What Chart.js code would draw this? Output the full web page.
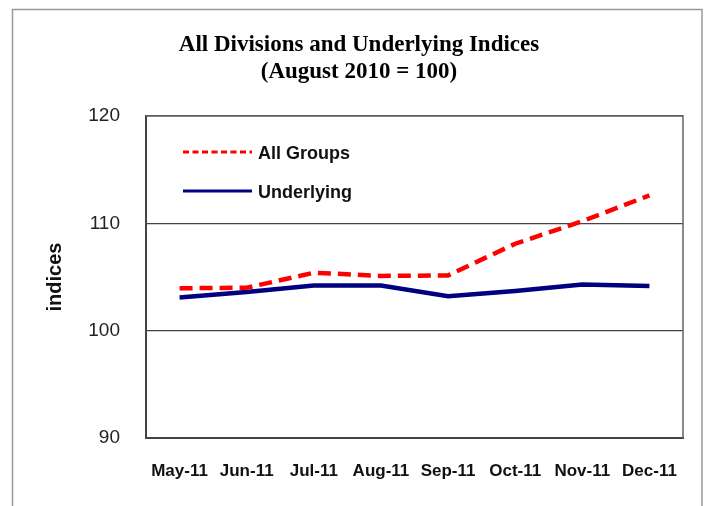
<!DOCTYPE html>
<html>
<head>
<meta charset="utf-8">
<script src="https://cdn.jsdelivr.net/npm/chart.js@4"></script>
<style>
  html, body { margin: 0; padding: 0; background: #fff; }
  #wrap { width: 707px; height: 506px; }
</style>
</head>
<body>
<div id="wrap"><canvas id="c" width="707" height="506"></canvas></div>
<script>
const titleLines = ['All Divisions and Underlying Indices', '(August 2010 = 100)'];
const categories = ['May-11', 'Jun-11', 'Jul-11', 'Aug-11', 'Sep-11', 'Oct-11', 'Nov-11', 'Dec-11'];
const allGroups = [103.95, 104.0, 105.4, 105.1, 105.15, 108.1, 110.2, 112.6];
const underlying = [103.1, 103.6, 104.2, 104.2, 103.2, 103.7, 104.3, 104.15];
const yTicks = [90, 100, 110, 120];
const yTitle = 'indices';

const framePlugin = {
  id: 'frame',
  beforeDraw(chart) {
    const ctx = chart.ctx;
    ctx.save();
    ctx.fillStyle = '#ffffff';
    ctx.fillRect(0, 0, chart.width, chart.height);
    ctx.strokeStyle = '#999999';
    ctx.lineWidth = 1.5;
    ctx.beginPath();
    ctx.moveTo(12.5, chart.height);
    ctx.lineTo(12.5, 9.5);
    ctx.lineTo(702, 9.5);
    ctx.lineTo(702, chart.height);
    ctx.stroke();
    ctx.restore();
  },
  afterDatasetsDraw(chart) {
    const a = chart.chartArea;
    const ctx = chart.ctx;
    ctx.save();
    ctx.strokeStyle = '#666666';
    ctx.lineWidth = 1.5;
    ctx.beginPath();
    ctx.moveTo(a.left, a.top);
    ctx.lineTo(a.right, a.top);
    ctx.lineTo(a.right, a.bottom);
    ctx.stroke();
    ctx.restore();
  },
  afterDraw(chart) {
    // legend inside the plot area
    const a = chart.chartArea;
    const ctx = chart.ctx;
    const rows = [36, 75];
    ctx.save();
    chart.data.datasets.forEach((ds, i) => {
      const y = a.top + rows[i];
      ctx.strokeStyle = ds.borderColor;
      ctx.lineWidth = 3;
      ctx.setLineDash(ds.borderDash && ds.borderDash.length ? [6, 3.5] : []);
      ctx.beginPath();
      ctx.moveTo(a.left + 37, y);
      ctx.lineTo(a.left + 106, y);
      ctx.stroke();
      ctx.setLineDash([]);
      ctx.fillStyle = '#111';
      ctx.font = 'bold 18px "Liberation Sans", Arial, sans-serif';
      ctx.textBaseline = 'middle';
      ctx.textAlign = 'left';
      ctx.fillText(ds.label, a.left + 112, y + 2);
    });
    ctx.restore();
  }
};

new Chart(document.getElementById('c'), {
  type: 'line',
  data: {
    labels: categories,
    datasets: [
      {
        label: 'All Groups',
        data: allGroups,
        borderColor: '#ff0000',
        backgroundColor: '#ff0000',
        borderWidth: 4.5,
        borderDash: [13, 7],
        pointRadius: 0,
        tension: 0,
        fill: false
      },
      {
        label: 'Underlying',
        data: underlying,
        borderColor: '#000080',
        backgroundColor: '#000080',
        borderWidth: 4.5,
        pointRadius: 0,
        tension: 0,
        fill: false
      }
    ]
  },
  options: {
    responsive: false,
    animation: false,
    devicePixelRatio: 1,
    layout: { padding: { left: 35, right: 24, top: 0, bottom: 0 } },
    plugins: {
      legend: { display: false },
      tooltip: { enabled: false },
      title: {
        display: true,
        text: titleLines,
        color: '#000',
        font: { family: '"Liberation Serif", "Times New Roman", serif', size: 23, weight: 'bold', lineHeight: 27 / 23 },
        padding: { top: 32, bottom: 30 }
      }
    },
    scales: {
      x: {
        offset: true,
        grid: { display: false, drawTicks: false },
        border: { display: true, color: '#444', width: 2 },
        ticks: {
          color: '#111',
          font: { family: '"Liberation Sans", Arial, sans-serif', size: 17, weight: 'bold' },
          padding: 23,
          maxRotation: 0,
          autoSkip: false
        },
        afterFit(scale) { scale.height = 68; }
      },
      y: {
        min: 90,
        max: 120,
        afterBuildTicks(scale) { scale.ticks = yTicks.map(v => ({ value: v })); },
        grid: { color: '#444', lineWidth: 1.3, drawTicks: false },
        border: { display: true, color: '#444', width: 2 },
        ticks: {
          color: '#222',
          font: { family: '"Liberation Sans", Arial, sans-serif', size: 19 },
          padding: 26
        },
        title: {
          display: true,
          text: yTitle,
          color: '#111',
          font: { family: '"Liberation Sans", Arial, sans-serif', size: 20, weight: 'bold' },
          padding: { top: 8, bottom: 0 }
        },
        afterFit(scale) { scale.width = 111; }
      }
    }
  },
  plugins: [framePlugin]
});
</script>
</body>
</html>
